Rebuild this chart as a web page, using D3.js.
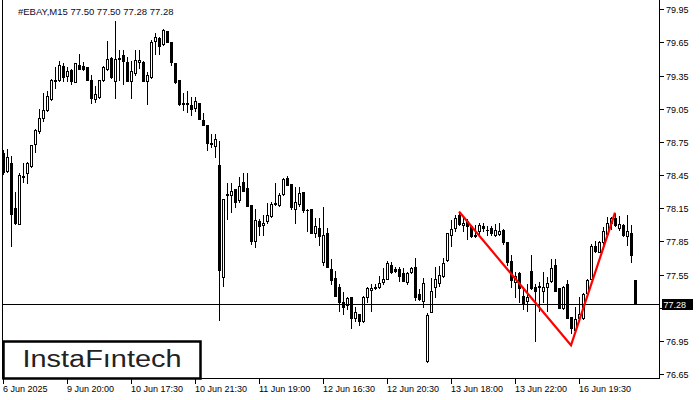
<!DOCTYPE html>
<html><head><meta charset="utf-8">
<script src="https://cdn.jsdelivr.net/npm/d3@7"></script>
<style>
body{margin:0;background:#fff}
svg{display:block}
text{font-family:"Liberation Sans",Arial,sans-serif}
</style>
</head><body>
<svg id="c" width="700" height="400"></svg>
<script>
const title = "#EBAY,M15  77.50 77.50 77.28 77.28";
const open = [78.65,78.49,78.56,78.15,78.01,78.43,78.47,78.53,78.73,78.85,78.97,79.04,79.14,79.31,79.31,79.44,79.35,79.40,79.29,79.45,
79.44,79.43,79.31,79.14,79.16,79.31,79.41,79.51,79.30,79.50,79.54,79.47,79.30,79.37,79.47,79.47,79.30,79.34,79.66,79.69,
79.64,79.75,79.65,79.46,79.31,79.09,79.10,79.08,79.06,79.10,78.95,78.90,78.74,78.71,78.54,77.53,78.28,78.27,78.32,78.22,
78.39,78.33,78.18,77.85,78.03,78.00,78.03,78.08,78.19,78.18,78.28,78.42,78.37,78.14,78.19,78.30,78.13,78.14,77.93,77.97,
77.66,77.93,77.60,77.52,77.44,77.30,77.27,77.35,77.16,77.19,77.13,77.35,77.41,77.43,77.44,77.48,77.51,77.64,77.60,77.60,
77.56,77.48,77.57,77.62,77.37,77.31,76.77,77.21,77.44,77.47,77.54,77.68,77.91,77.97,78.09,78.00,78.03,77.99,77.90,77.94,
77.99,77.95,77.97,77.91,77.92,77.95,77.84,77.67,77.48,77.56,77.36,77.31,77.58,77.44,77.44,77.40,77.44,77.49,77.64,77.43,
77.25,77.46,77.17,77.05,77.16,77.16,77.38,77.51,77.81,77.75,77.84,77.92,78.02,78.06,77.97,78.00,77.90,77.93,77.50];
const high = [78.68,78.69,78.62,78.30,78.47,78.56,78.57,78.72,78.87,79.05,79.19,79.21,79.32,79.43,79.48,79.46,79.43,79.41,79.46,79.55,
79.47,79.43,79.36,79.26,79.31,79.44,79.66,79.52,79.84,79.58,79.58,79.52,79.48,79.58,79.58,79.48,79.38,79.67,79.74,79.70,
79.77,79.75,79.65,79.46,79.31,79.19,79.21,79.16,79.16,79.10,79.01,78.90,78.82,78.82,78.76,78.23,78.38,78.38,78.32,78.43,
78.47,78.47,78.18,78.14,78.05,78.09,78.20,78.21,78.38,78.29,78.42,78.44,78.37,78.34,78.34,78.30,78.14,78.14,78.06,78.06,
78.16,77.97,77.69,77.58,77.46,77.39,77.35,77.35,77.26,77.19,77.36,77.44,77.46,77.46,77.54,77.61,77.67,77.66,77.62,77.62,
77.61,77.57,77.62,77.70,77.42,77.52,77.20,77.52,77.62,77.63,77.70,77.93,78.04,78.09,78.12,78.07,78.05,78.00,78.00,78.02,
78.02,77.99,77.99,78.01,78.02,77.96,77.84,77.73,77.57,77.57,77.44,77.46,77.73,77.46,77.48,77.57,77.53,77.69,77.69,77.43,
77.45,77.50,77.17,77.26,77.35,77.38,77.51,77.83,77.85,77.85,77.98,78.07,78.07,78.11,78.08,78.01,78.09,78.00,77.50];
const low = [78.46,78.48,77.81,78.01,78.01,78.39,78.38,78.52,78.66,78.83,78.94,79.03,79.13,79.24,79.30,79.30,79.30,79.27,79.29,79.41,
79.40,79.31,79.10,79.11,79.15,79.30,79.40,79.33,79.15,79.31,79.27,79.30,79.15,79.36,79.42,79.30,79.09,79.33,79.55,79.55,
79.63,79.65,79.45,79.28,79.08,79.04,79.02,78.99,79.03,78.96,78.90,78.68,78.70,78.61,77.14,77.45,78.05,78.12,78.16,78.21,
78.31,78.17,77.83,77.80,77.91,77.91,78.02,78.07,78.18,78.17,78.27,78.36,78.14,78.02,78.17,78.12,77.94,77.93,77.89,77.82,
77.64,77.62,77.46,77.36,77.22,77.19,77.24,77.07,77.13,77.09,77.12,77.30,77.22,77.42,77.43,77.46,77.51,77.56,77.57,77.49,
77.49,77.46,77.56,77.32,77.32,77.26,76.76,77.21,77.35,77.45,77.53,77.67,77.81,77.94,78.00,77.94,77.87,77.89,77.89,77.91,
77.94,77.91,77.91,77.90,77.91,77.83,77.64,77.44,77.35,77.30,77.24,77.22,77.42,76.95,77.22,77.30,77.22,77.48,77.40,77.25,
77.24,77.16,77.02,77.05,77.13,77.15,77.37,77.51,77.75,77.75,77.78,77.91,77.96,77.99,77.95,77.90,77.82,77.66,77.28];
const close = [78.48,78.61,78.10,78.02,78.45,78.44,78.56,78.72,78.86,78.97,79.04,79.17,79.31,79.30,79.45,79.34,79.39,79.30,79.46,79.41,
79.41,79.31,79.15,79.18,79.31,79.43,79.50,79.34,79.50,79.51,79.48,79.30,79.39,79.49,79.49,79.30,79.36,79.65,79.70,79.62,
79.76,79.65,79.47,79.29,79.09,79.10,79.09,79.05,79.12,78.96,78.90,78.74,78.73,78.78,77.59,78.23,78.27,78.31,78.21,78.35,
78.31,78.17,77.85,78.04,77.99,78.02,78.09,78.19,78.20,78.27,78.41,78.36,78.16,78.21,78.29,78.13,78.13,77.93,77.99,77.90,
77.91,77.62,77.50,77.36,77.30,77.26,77.34,77.16,77.21,77.13,77.35,77.43,77.43,77.44,77.47,77.51,77.65,77.57,77.58,77.54,
77.49,77.56,77.61,77.35,77.33,77.47,77.18,77.40,77.51,77.55,77.65,77.93,77.96,78.06,78.01,78.02,77.99,77.90,77.91,78.00,
77.97,77.95,77.93,77.95,77.94,77.84,77.66,77.50,77.54,77.43,77.29,77.35,77.43,77.40,77.45,77.44,77.47,77.61,77.40,77.25,
77.44,77.16,77.07,77.15,77.19,77.37,77.50,77.81,77.76,77.84,77.94,78.02,78.06,78.00,78.01,77.91,77.94,77.73,77.28];
const tickIdx = [0,16,32,48,64,80,96,112,128,144];
const tickLabels = ["6 Jun 2025","9 Jun 20:00","10 Jun 17:30","10 Jun 21:30","11 Jun 19:00","12 Jun 16:30","12 Jun 20:30","13 Jun 18:00","13 Jun 22:00","16 Jun 19:30"];
const yTicks = [79.95,79.65,79.35,79.05,78.75,78.45,78.15,77.85,77.55,77.25,76.95,76.65];
const patternIdx = [114,142,153];
const patternPrice = [78.12,76.91,78.11];
const lastPrice = 77.28;

const svg = d3.select("#c");
const x = d3.scaleLinear().domain([0, open.length - 1]).range([3, 635]);
const y = d3.scaleLinear().domain([76.65, 79.95]).range([374, 9.3]);
const R = v => Math.round(v);
const left = 2.5, right = 659.5, bottom = 378.5;

// frame
svg.append("path").attr("d", `M${left},0V${bottom}H${right}V0`)
  .attr("fill","none").attr("stroke","#000").attr("stroke-width",1).attr("shape-rendering","crispEdges");

// title
svg.append("text").attr("x",18).attr("y",14.5).attr("font-size",9.5).attr("fill","#0b0b2a").text(title);

// y axis (the tick hidden behind the price label keeps only its mark)
const ya = svg.append("g").attr("shape-rendering","crispEdges");
yTicks.forEach(t => {
  const yy = R(y(t)) + 0.5;
  ya.append("line").attr("x1",right).attr("x2",right+4).attr("y1",yy).attr("y2",yy).attr("stroke","#000");
  if (Math.abs(y(t) - y(lastPrice)) > 8)
    ya.append("text").attr("x",666).attr("y",yy+3.3).attr("font-size",9).attr("fill","#000").text(t.toFixed(2));
});

// x axis
const xa = svg.append("g").attr("shape-rendering","crispEdges");
tickIdx.forEach((ti, k) => {
  const xx = R(x(ti)) + 0.5;
  xa.append("line").attr("x1",xx).attr("x2",xx).attr("y1",bottom).attr("y2",bottom+5).attr("stroke","#000");
  xa.append("text").attr("x",xx-0.5).attr("y",391.5).attr("font-size",9).attr("fill","#000").text(tickLabels[k]);
});

// candles
const g = svg.append("g").attr("shape-rendering","crispEdges");
open.forEach((o, i) => {
  const c = close[i];
  const cx = R(x(i));
  const yh = R(y(high[i])), yl = R(y(low[i]));
  const top = R(y(Math.max(o, c))), bot = R(y(Math.min(o, c)));
  g.append("line").attr("x1",cx+0.5).attr("x2",cx+0.5).attr("y1",yh).attr("y2",yl+1).attr("stroke","#000");
  if (c < o || bot - top < 2) {
    g.append("rect").attr("x",cx-1).attr("y",top).attr("width",3).attr("height",bot-top+1).attr("fill","#000");
  } else {
    g.append("rect").attr("x",cx-0.5).attr("y",top+0.5).attr("width",2).attr("height",bot-top)
      .attr("fill","#fff").attr("stroke","#000").attr("stroke-width",1);
  }
});

// last price line
const yp = R(y(lastPrice)) + 0.5;
svg.append("line").attr("x1",left).attr("x2",right).attr("y1",yp).attr("y2",yp)
  .attr("stroke","#000").attr("shape-rendering","crispEdges");
svg.append("rect").attr("x",662).attr("y",yp-5.5).attr("width",31).attr("height",11).attr("fill","#000");
svg.append("text").attr("x",663.5).attr("y",yp+3.3).attr("font-size",9).attr("fill","#fff").text(lastPrice.toFixed(2));

// pattern (red)
const line = d3.line().x((d,k) => x(patternIdx[k])).y(d => y(d));
svg.append("path").attr("d", line(patternPrice)).attr("fill","none").attr("stroke","#ff0000").attr("stroke-width",2.2);

// logo
svg.append("rect").attr("x",3.5).attr("y",341.5).attr("width",197).attr("height",37)
  .attr("fill","#fff").attr("stroke","#000").attr("stroke-width",2.5);
svg.append("text").attr("x",22.5).attr("y",367).attr("font-family","Inter, 'Open Sans', sans-serif")
  .attr("font-size",23).attr("font-weight",500).attr("fill","#222")
  .attr("textLength",159).attr("lengthAdjust","spacingAndGlyphs").text("InstaF\u0131ntech");
</script>
</body></html>
